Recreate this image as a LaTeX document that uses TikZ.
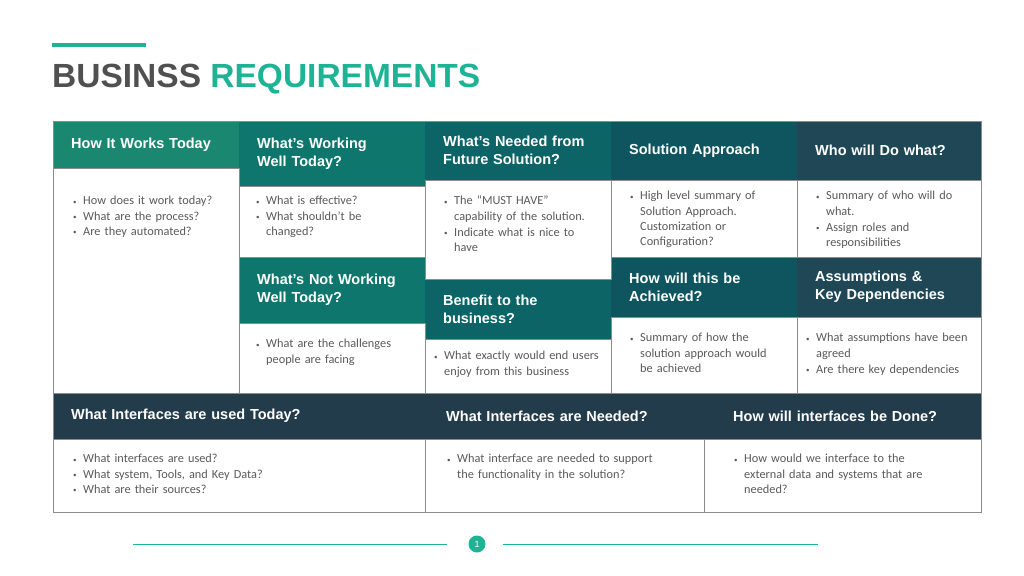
\documentclass[tikz,border=0pt]{standalone}
\usepackage{fontspec}
\setmainfont{Carlito}
\newfontfamily\headfont{Liberation Sans}
\usetikzlibrary{positioning}
\definecolor{mint}{HTML}{1FB396}
\definecolor{slate}{HTML}{505050}
\definecolor{textgray}{HTML}{595959}
\definecolor{rulegray}{HTML}{8C8C8C}
\definecolor{tealA}{HTML}{1A8770}
\definecolor{tealB}{HTML}{0E766C}
\definecolor{tealC}{HTML}{0C6467}
\definecolor{tealD}{HTML}{0F5560}
\definecolor{tealE}{HTML}{1F4756}
\definecolor{tealF}{HTML}{233C4B}
\newcommand\bul[1]{\noindent\makebox[10pt][l]{\raisebox{0.5pt}{\scriptsize\textbullet}}%
  \parbox[t]{\dimexpr\hsize-10pt}{\raggedright\hyphenpenalty=10000 \strut#1\strut}\par}
\tikzset{
  head/.style={anchor=north west, text=white, align=left, inner xsep=18pt, inner ysep=0pt,
    font=\headfont\fontsize{14.5}{18}\selectfont\bfseries},
  bodybox/.style={anchor=north west, draw=rulegray, line width=0.6pt, inner sep=0pt},
  txt/.style={anchor=north west, text=textgray, inner sep=0pt,
    font=\fontsize{12.3}{15.2}\selectfont}
}
\begin{document}
\begin{tikzpicture}[x=1pt,y=-1pt]
\useasboundingbox (0,0) rectangle (1024,575);
% title
\fill[mint] (52,43) rectangle (146,47);
\node[anchor=base west, inner sep=0pt, font=\headfont\fontsize{33.5}{40}\selectfont\bfseries] (title) at (52,88)
  {\textcolor{slate}{BUSINSS} \textcolor{mint}{REQUIREMENTS}};
% headers
\node[head, fill=tealA, text width=150pt, minimum height=47pt] (h1) at (53,121) {How It Works Today};
\node[head, fill=tealB, text width=150pt, minimum height=65pt] (h2) at (239,121) {What’s Working\\Well Today?};
\node[head, fill=tealC, text width=150pt, minimum height=59pt] (h3) at (425,121) {What’s Needed from\\Future Solution?};
\node[head, fill=tealD, text width=150pt, minimum height=59pt] (h4) at (611,121) {Solution Approach};
\node[head, fill=tealE, text width=148pt, minimum height=59pt] (h5) at (797,121) {Who will Do what?};
\node[head, fill=tealB, text width=150pt, minimum height=66pt] (h6) at (239,257) {What’s Not Working\\Well Today?};
\node[head, fill=tealC, text width=150pt, minimum height=60pt] (h7) at (425,279) {Benefit to the\\business?};
\node[head, fill=tealD, text width=150pt, minimum height=60pt] (h8) at (611,257) {How will this be\\Achieved?};
\node[head, fill=tealE, text width=148pt, minimum height=60pt] (h9) at (797,257) {Assumptions \&\\Key Dependencies};
\node[head, fill=tealF, text width=336pt, minimum height=46pt] (h10) at (53,393) {What Interfaces are used Today?};
\node[head, fill=tealF, inner xsep=21pt, text width=237pt, minimum height=46pt] (h11) at (425,393) {What Interfaces are Needed?};
\node[head, fill=tealF, inner xsep=29pt, text width=219pt, minimum height=46pt] (h12) at (704,393) {How will interfaces be Done?};
% body frames
\node[bodybox, minimum width=186pt, minimum height=225pt] (b1) at (53,168) {};
\node[bodybox, minimum width=186pt, minimum height=71pt] (b2) at (239,186) {};
\node[bodybox, minimum width=186pt, minimum height=99pt] (b3) at (425,180) {};
\node[bodybox, minimum width=186pt, minimum height=77pt] (b4) at (611,180) {};
\node[bodybox, minimum width=184pt, minimum height=77pt] (b5) at (797,180) {};
\node[bodybox, minimum width=186pt, minimum height=70pt] (b6) at (239,323) {};
\node[bodybox, minimum width=186pt, minimum height=54pt] (b7) at (425,339) {};
\node[bodybox, minimum width=186pt, minimum height=76pt] (b8) at (611,317) {};
\node[bodybox, minimum width=184pt, minimum height=76pt] (b9) at (797,317) {};
\node[bodybox, minimum width=372pt, minimum height=73pt] (b10) at (53,439) {};
\node[bodybox, minimum width=279pt, minimum height=73pt] (b11) at (425,439) {};
\node[bodybox, minimum width=277pt, minimum height=73pt] (b12) at (704,439) {};
\draw[rulegray, line width=0.6pt] (53,121) rectangle (981,512);
% body texts
\node[txt, text width=155pt] (t1) at (73,194) {\bul{How does it work today?}\bul{What are the process?}\bul{Are they automated?}};
\node[txt, text width=135pt] (t2) at (256,194) {\bul{What is effective?}\bul{What shouldn’t be changed?}};
\node[txt, text width=150pt] (t3) at (444,194) {\bul{The “MUST HAVE” capability of the solution.}\bul{Indicate what is nice to have}};
\node[txt, text width=135pt] (t4) at (630,189) {\bul{High level summary of Solution Approach. Customization or Configuration?}};
\node[txt, text width=140pt] (t5) at (816,189) {\bul{Summary of who will do what.}\bul{Assign roles and responsibilities}};
\node[txt, text width=140pt] (t6) at (256,337) {\bul{What are the challenges people are facing}};
\node[txt, text width=170pt] (t7) at (434,349) {\bul{What exactly would end users enjoy from this business}};
\node[txt, text width=142pt] (t8) at (630,331) {\bul{Summary of how the solution approach would be achieved}};
\node[txt, text width=170pt] (t9) at (806,331) {\bul{What assumptions have been agreed}\bul{Are there key dependencies}};
\node[txt, text width=300pt] (t10) at (73,452) {\bul{What interfaces are used?}\bul{What system, Tools, and Key Data?}\bul{What are their sources?}};
\node[txt, text width=215pt] (t11) at (447,452) {\bul{What interface are needed to support the functionality in the solution?}};
\node[txt, text width=200pt] (t12) at (734,452) {\bul{How would we interface to the external data and systems that are needed?}};
% footer
\node[circle, fill=mint, text=white, minimum size=17pt, inner sep=0pt, font=\headfont\fontsize{9}{9}\selectfont] (pg) at (477,544) {1};
\coordinate (fl) at (133,544);
\coordinate (fr) at (818,544);
\draw[mint, line width=0.8pt] (fl) -- ([xshift=-30pt]pg.center);
\draw[mint, line width=0.8pt] ([xshift=26pt]pg.center) -- (fr);
\end{tikzpicture}
\end{document}
